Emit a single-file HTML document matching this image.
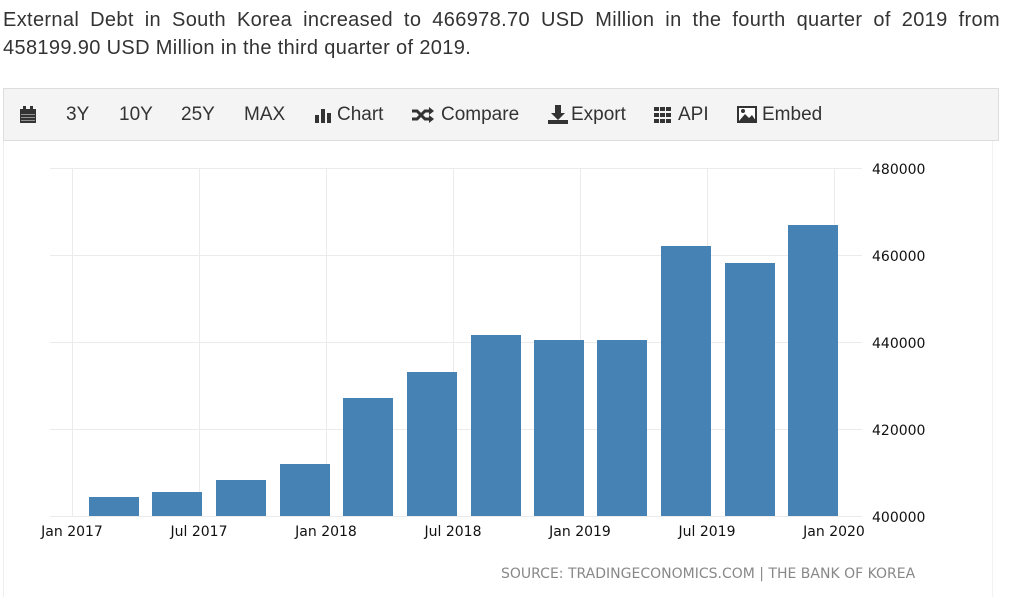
<!DOCTYPE html>
<html><head><meta charset="utf-8"><style>
body{margin:0;background:#fff;width:1013px;height:597px;overflow:hidden;position:relative;font-family:"Liberation Sans",Arial,sans-serif}
.t{position:absolute;left:3px;top:6px;width:997px;font-size:20px;letter-spacing:0.35px;line-height:28px;color:#333;text-align:justify;text-align-last:left}
.bar{position:absolute;left:3px;top:88px;width:996px;height:53px;background:#f4f4f4;border:1px solid #ddd;box-sizing:border-box}
.bar span{position:absolute;top:15px;font-size:19px;color:#333}
</style></head><body>
<div class="t">External Debt in South Korea increased to 466978.70 USD Million in the fourth quarter of 2019 from 458199.90 USD Million in the third quarter of 2019.</div>
<div class="bar">
<svg style="position:absolute;left:15px;top:17px" width="18" height="18"><rect x="1" y="3" width="16" height="14" fill="#333"/><rect x="4" y="0" width="3" height="4" fill="#333"/><rect x="11" y="0" width="3" height="4" fill="#333"/><g fill="#aaa"><rect x="2" y="8" width="14" height="0.8"/><rect x="2" y="11" width="14" height="0.8"/><rect x="2" y="14" width="14" height="0.8"/></g></svg>
<span style="left:62px">3Y</span><span style="left:115px">10Y</span><span style="left:177px">25Y</span><span style="left:240px">MAX</span>
<svg style="position:absolute;left:311px;top:18px" width="18" height="16"><rect x="0" y="8" width="4" height="8" fill="#333"/><rect x="6" y="2" width="4" height="14" fill="#333"/><rect x="12" y="6" width="4" height="10" fill="#333"/></svg>
<span style="left:333px">Chart</span>
<svg style="position:absolute;left:407px;top:18px" width="24" height="16"><path d="M1 4h5l8 8h6M1 12h5l8-8h6" stroke="#333" stroke-width="3" fill="none"/><path d="M18 0l5 4-5 4zM18 8l5 4-5 4z" fill="#333"/></svg>
<span style="left:437px">Compare</span>
<svg style="position:absolute;left:544px;top:16px" width="20" height="20"><path d="M7 0h6v8h4l-7 7-7-7h4z" fill="#333"/><rect x="0" y="15" width="20" height="4" fill="#333"/></svg>
<span style="left:567px">Export</span>
<svg style="position:absolute;left:650px;top:18px" width="18" height="16" fill="#333"><rect x="0" y="0" width="5" height="4"/><rect x="6" y="0" width="5" height="4"/><rect x="12" y="0" width="5" height="4"/><rect x="0" y="6" width="5" height="4"/><rect x="6" y="6" width="5" height="4"/><rect x="12" y="6" width="5" height="4"/><rect x="0" y="12" width="5" height="4"/><rect x="6" y="12" width="5" height="4"/><rect x="12" y="12" width="5" height="4"/></svg>
<span style="left:674px">API</span>
<svg style="position:absolute;left:733px;top:17px" width="20" height="17"><rect x="1" y="1" width="18" height="15" fill="#fff" stroke="#333" stroke-width="2"/><path d="M2 15l6-7 4 4 3-3 4 6z" fill="#333"/><circle cx="6" cy="5" r="2" fill="#333"/></svg>
<span style="left:758px">Embed</span>
</div>
<svg style="position:absolute;left:0;top:0" width="1013" height="597" font-family="'DejaVu Sans',sans-serif">
<line x1="3.5" y1="141" x2="3.5" y2="597" stroke="#eee"/>
<line x1="992.5" y1="141" x2="992.5" y2="597" stroke="#f2f2f2"/>
<g stroke="#ebebeb" stroke-width="1">
<line x1="50" y1="168.5" x2="862" y2="168.5"/><line x1="50" y1="255.5" x2="862" y2="255.5"/><line x1="50" y1="342.5" x2="862" y2="342.5"/><line x1="50" y1="429.5" x2="862" y2="429.5"/><line x1="50" y1="516.5" x2="862" y2="516.5"/>
<line x1="72.5" y1="168" x2="72.5" y2="516"/><line x1="199.5" y1="168" x2="199.5" y2="516"/><line x1="326.5" y1="168" x2="326.5" y2="516"/><line x1="453.5" y1="168" x2="453.5" y2="516"/><line x1="580.5" y1="168" x2="580.5" y2="516"/><line x1="707.5" y1="168" x2="707.5" y2="516"/><line x1="834.5" y1="168" x2="834.5" y2="516"/>
</g>
<g fill="#4682b4">
<rect x="89" y="497" width="50" height="19"/><rect x="152" y="492" width="50" height="24"/><rect x="216" y="480" width="50" height="36"/><rect x="280" y="464" width="50" height="52"/><rect x="343" y="398" width="50" height="118"/><rect x="407" y="372" width="50" height="144"/><rect x="471" y="335" width="50" height="181"/><rect x="534" y="340" width="50" height="176"/><rect x="597" y="340" width="50" height="176"/><rect x="661" y="246" width="50" height="270"/><rect x="725" y="263" width="50" height="253"/><rect x="788" y="225" width="50" height="291"/>
</g>
<g font-size="14" fill="#111" text-anchor="middle">
<text x="72" y="536">Jan 2017</text><text x="199" y="536">Jul 2017</text><text x="326" y="536">Jan 2018</text><text x="453" y="536">Jul 2018</text><text x="580" y="536">Jan 2019</text><text x="707" y="536">Jul 2019</text><text x="834" y="536">Jan 2020</text>
</g>
<g font-size="14" fill="#111">
<text x="872" y="174">480000</text><text x="872" y="261">460000</text><text x="872" y="348">440000</text><text x="872" y="435">420000</text><text x="872" y="522">400000</text>
</g>
<text x="501" y="578" font-size="14" fill="#888">SOURCE: TRADINGECONOMICS.COM | THE BANK OF KOREA</text>
</svg>
</body></html>
